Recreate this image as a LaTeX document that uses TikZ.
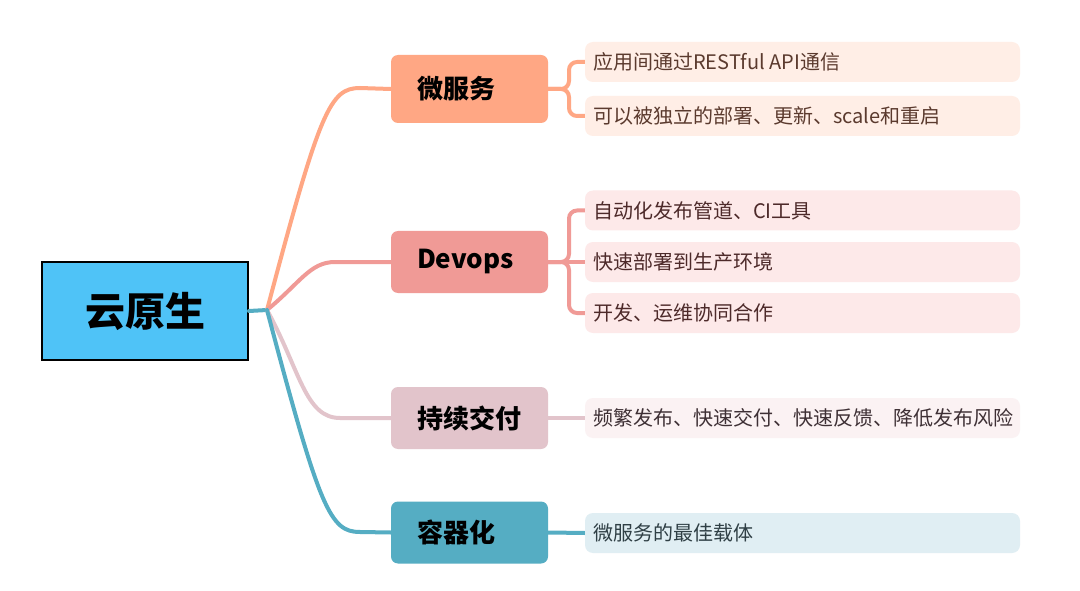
\documentclass[tikz,border=0pt]{standalone}
\usepackage{fontspec}
\setmainfont{Noto Sans CJK SC}
\definecolor{rootblue}{HTML}{4FC3F7}
\definecolor{cA}{HTML}{FFA784}
\definecolor{cB}{HTML}{F09A96}
\definecolor{cC}{HTML}{E2C4CB}
\definecolor{cD}{HTML}{55ADC3}
\definecolor{fA}{HTML}{FFEEE6}
\definecolor{fB}{HTML}{FDE9E9}
\definecolor{fC}{HTML}{FBF2F3}
\definecolor{fD}{HTML}{E0EEF3}
\definecolor{tA}{HTML}{5B3A2E}
\definecolor{tB}{HTML}{4D2A2A}
\definecolor{tC}{HTML}{3E3035}
\definecolor{tD}{HTML}{2F3F45}
\tikzset{
  mainbox/.style={rounded corners=7pt, minimum height=64pt, inner xsep=26pt, inner ysep=0pt,
    text width=105pt, align=left,
    font=\fontsize{26}{30}\selectfont\bfseries, text=black},
  leaf/.style={rounded corners=8pt, minimum width=435pt, minimum height=40pt, inner sep=0pt},
  leaftext/.style={anchor=west, inner sep=0pt, font=\fontsize{20}{24}\selectfont},
  branch/.style={line width=4pt, line cap=round},
  twig/.style={line width=4pt, rounded corners=8pt}
}
\begin{document}
\begin{tikzpicture}[x=1pt,y=-1pt]
\useasboundingbox[fill=white] (0,0) rectangle (1080,591);

% root
\node[draw=black, line width=2pt, fill=rootblue, minimum width=206pt, minimum height=98pt,
  inner sep=0pt, font=\fontsize{40}{44}\selectfont\bfseries] (root) at (145,311) {云原生};
\coordinate (o) at (267,310);

% level-1 nodes
\node[mainbox, fill=cA, minimum height=68pt] (ms) at (469.5,89) {微服务};
\node[mainbox, fill=cB, minimum height=62pt] (dv) at (469.5,262) {Devops};
\node[mainbox, fill=cC, minimum height=62pt] (cd) at (469.5,418) {持续交付};
\node[mainbox, fill=cD, minimum height=62pt] (cz) at (469.5,532.5) {容器化};

% curves
\draw[branch, cD] (root.east) -- (o);
\draw[branch, cA] (o) .. controls (320,110) and (330,88) .. (360,88) -- (ms.west);
\draw[branch, cB] (o) .. controls (300,283) and (310,262) .. (335,262) -- (dv.west);
\draw[branch, cC] (o) .. controls (300,370) and (305,418) .. (340,418) -- (cd.west);
\draw[branch, cD] (o) .. controls (320,510) and (330,532) .. (360,532) -- (cz.west);

% leaves
\node[leaf, fill=fA] (a1) at (802.5,62) {};
\node[leaftext, text=tA] (a1t) at (593,62) {应用间通过RESTful API通信};
\node[leaf, fill=fA] (a2) at (802.5,116) {};
\node[leaftext, text=tA] (a2t) at (593,116) {可以被独立的部署、更新、scale和重启};

\node[leaf, fill=fB] (b1) at (802.5,210.5) {};
\node[leaftext, text=tB] (b1t) at (593,210.5) {自动化发布管道、CI工具};
\node[leaf, fill=fB] (b2) at (802.5,262) {};
\node[leaftext, text=tB] (b2t) at (593,262) {快速部署到生产环境};
\node[leaf, fill=fB] (b3) at (802.5,313) {};
\node[leaftext, text=tB] (b3t) at (593,313) {开发、运维协同合作};

\node[leaf, fill=fC] (c1) at (802.5,418) {};
\node[leaftext, text=tC] (c1t) at (593,418) {频繁发布、快速交付、快速反馈、降低发布风险};

\node[leaf, fill=fD] (d1) at (802.5,533) {};
\node[leaftext, text=tD] (d1t) at (593,533) {微服务的最佳载体};

% twigs
\draw[twig, cA] (ms.east) -- (569,89) |- (a1.west);
\draw[twig, cA] (ms.east) -- (569,89) |- (a2.west);
\draw[twig, cB] (dv.east) -- (569,262) |- (b1.west);
\draw[twig, cB] (dv.east) -- (b2.west);
\draw[twig, cB] (dv.east) -- (569,262) |- (b3.west);
\draw[twig, cC] (cd.east) -- (c1.west);
\draw[twig, cD] (cz.east) -- (d1.west);
\end{tikzpicture}
\end{document}
